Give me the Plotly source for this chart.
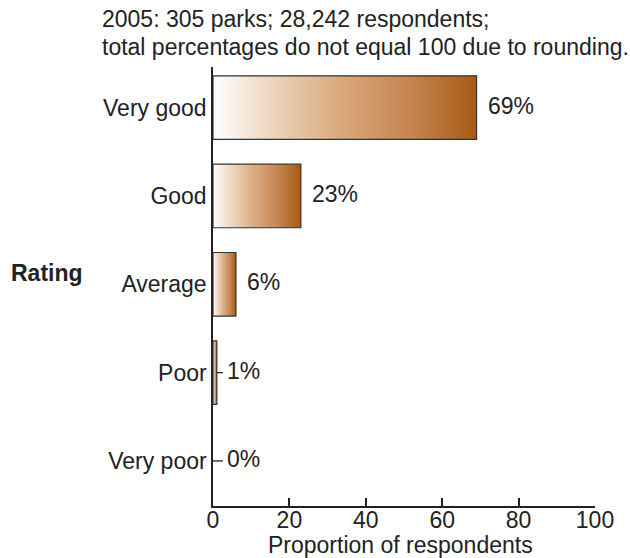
import plotly.graph_objects as go

# Survey data
categories = ["Very poor", "Poor", "Average", "Good", "Very good"]
values = [0, 1, 6, 23, 69]
value_labels = ["0%", "1%", "6%", "23%", "69%"]
x_ticks = [0, 20, 40, 60, 80, 100]

title_lines = [
    "2005: 305 parks; 28,242 respondents;",
    "total percentages do not equal 100 due to rounding.",
]
x_title = "Proportion of respondents"
y_title = "Rating"

INK = "#222222"
FONT = "Liberation Sans, Arial, Helvetica, sans-serif"
SIZE = 23
BAR_HALF = 0.36
LEADER_END = 2.6  # where the leader dash of a tiny bar stops (axis units)

# plot-area geometry in pixels, used to place free text in paper units
W, H = 630, 558
L, R, T, B = 213, 35, 67, 52
PW, PH = W - L - R, H - T - B


def px_x(px):
    return (px - L) / PW


def px_y(py):
    return (H - B - py) / PH


gradient = [
    [0.0, "#ffffff"],
    [0.15, "#f3e2d2"],
    [0.45, "#dcae84"],
    [0.75, "#c48450"],
    [1.0, "#a65a14"],
]

fig = go.Figure()

for i, v in enumerate(values):
    if v > 0:
        fig.add_trace(go.Scatter(
            x=[0, v, v, 0, 0],
            y=[i - BAR_HALF, i - BAR_HALF, i + BAR_HALF, i + BAR_HALF, i - BAR_HALF],
            mode="lines",
            fill="toself",
            fillgradient=dict(type="horizontal", colorscale=gradient),
            line=dict(color="#333333", width=1.2),
            hoverinfo="skip",
            showlegend=False,
        ))

annotations = []
for i, (v, lab) in enumerate(zip(values, value_labels)):
    if v < 2:
        # short leader dash from the bar end to the label
        fig.add_trace(go.Scatter(
            x=[v, LEADER_END], y=[i, i],
            mode="lines",
            line=dict(color=INK, width=1.3),
            hoverinfo="skip",
            showlegend=False,
        ))
        x_lab, shift = LEADER_END, 2
    else:
        x_lab, shift = v, 9
    annotations.append(dict(
        x=x_lab, y=i, xref="x", yref="y",
        text=lab, showarrow=False,
        xanchor="left", yanchor="middle",
        xshift=shift, yshift=2,
        font=dict(size=SIZE, color=INK, family=FONT),
    ))

# y-axis title, set horizontally
annotations.append(dict(
    x=px_x(47), y=px_y(273), xref="paper", yref="paper",
    text="<b>" + y_title + "</b>", showarrow=False,
    xanchor="center", yanchor="middle",
    font=dict(size=SIZE, color=INK, family=FONT),
))

# x-axis title
annotations.append(dict(
    x=px_x(400), y=px_y(545), xref="paper", yref="paper",
    text=x_title, showarrow=False,
    xanchor="center", yanchor="middle",
    font=dict(size=SIZE, color=INK, family=FONT),
))

# two-line heading
for line, py in zip(title_lines, [19, 47]):
    annotations.append(dict(
        x=px_x(100), y=px_y(py), xref="paper", yref="paper",
        text=line, showarrow=False,
        xanchor="left", yanchor="middle",
        font=dict(size=SIZE, color=INK, family=FONT),
    ))

fig.update_layout(
    width=W, height=H,
    margin=dict(l=L, r=R, t=T, b=B, autoexpand=False),
    paper_bgcolor="white",
    plot_bgcolor="white",
    font=dict(family=FONT, size=SIZE, color=INK),
    annotations=annotations,
    xaxis=dict(
        range=[0, 100],
        tickvals=x_ticks,
        ticktext=[str(t) for t in x_ticks],
        ticks="inside", ticklen=8, tickwidth=1.5, tickcolor=INK,
        showline=True, linecolor=INK, linewidth=1.5,
        showgrid=False, zeroline=False,
        tickfont=dict(size=SIZE, color=INK),
        ticklabelstandoff=-7,
        automargin=False,
        fixedrange=True,
    ),
    yaxis=dict(
        range=[-0.51, 4.46],
        tickvals=list(range(len(categories))),
        ticktext=categories,
        ticks="", showline=True, linecolor=INK, linewidth=1.5,
        showgrid=False, zeroline=False,
        tickfont=dict(size=SIZE, color=INK),
        automargin=False,
        fixedrange=True,
    ),
)

fig.write_html("out.html")
